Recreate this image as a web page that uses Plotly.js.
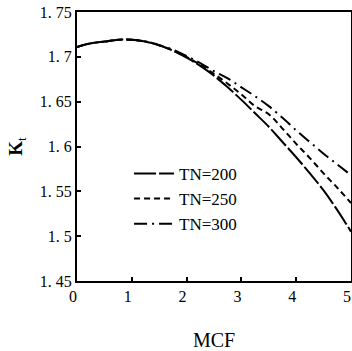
<!DOCTYPE html>
<html>
<head>
<meta charset="utf-8">
<script src="https://cdn.plot.ly/plotly-3.0.1.min.js"></script>
<style>html,body{margin:0;padding:0;background:#fff;}#chart{width:352px;height:351px;}</style>
</head>
<body>
<div id="chart"></div>
<script>
const mcf = [0, 0.25, 0.5, 0.75, 1, 1.25, 1.5, 1.75, 2, 2.25, 2.5, 2.75, 3, 3.25, 3.5, 3.75, 4, 4.25, 4.5, 4.75, 5];
const kt200 = [1.711, 1.715, 1.717, 1.719, 1.719, 1.717, 1.713, 1.707, 1.699, 1.690, 1.679, 1.666, 1.652, 1.637, 1.622, 1.605, 1.588, 1.570, 1.551, 1.529, 1.505];
const kt250 = [1.711, 1.715, 1.717, 1.719, 1.719, 1.717, 1.713, 1.707, 1.700, 1.691, 1.681, 1.670, 1.658, 1.645, 1.636, 1.620, 1.603, 1.587, 1.570, 1.554, 1.537];
const kt300 = [1.711, 1.715, 1.717, 1.719, 1.719, 1.717, 1.713, 1.708, 1.701, 1.693, 1.684, 1.676, 1.666, 1.656, 1.645, 1.632, 1.618, 1.605, 1.592, 1.580, 1.568];
const seriesNames = ["TN=200", "TN=250", "TN=300"];
const yTicks = [1.45, 1.5, 1.55, 1.6, 1.65, 1.7, 1.75];
const yTickText = ["1. 45", "1. 5", "1. 55", "1. 6", "1. 65", "1. 7", "1. 75"];
const xTicks = [0, 1, 2, 3, 4, 5];
const xTickText = ["0", "1", "2", "3", "4", "5"];

const serif = "'Liberation Serif', 'Times New Roman', serif";
const traces = [
  {x: mcf, y: kt200, name: seriesNames[0], mode: "lines", line: {color: "#000", width: 2, dash: "22px,3px", shape: "spline"}},
  {x: mcf, y: kt250, name: seriesNames[1], mode: "lines", line: {color: "#000", width: 2, dash: "6px,4px", shape: "spline"}},
  {x: mcf, y: kt300, name: seriesNames[2], mode: "lines", line: {color: "#000", width: 2, dash: "13px,5px,2px,5px", shape: "spline"}}
];
const layout = {
  width: 352, height: 351,
  margin: {l: 77, r: 1, t: 12, b: 70},
  paper_bgcolor: "#fff", plot_bgcolor: "#fff",
  showlegend: true,
  legend: {x: 0.19, y: 0.465, xanchor: "left", yanchor: "top", bgcolor: "rgba(0,0,0,0)",
           font: {family: serif, size: 17, color: "#000"}, tracegroupgap: 0, itemwidth: 40},
  xaxis: {range: [0, 5], tickvals: xTicks, ticktext: xTickText, ticks: "inside", ticklen: 4, tickwidth: 2,
          tickcolor: "#000", showgrid: false, zeroline: false, showline: true, linecolor: "#000", linewidth: 2,
          mirror: true, ticklabeloverflow: "allow", ticklabelshift: -4,
          tickfont: {family: serif, size: 16, color: "#000"},
          title: {text: "MCF", font: {family: serif, size: 20, color: "#000"}, standoff: 36}},
  yaxis: {range: [1.45, 1.75], tickvals: yTicks, ticktext: yTickText, ticks: "inside", ticklen: 4, tickwidth: 2,
          tickcolor: "#000", showgrid: false, zeroline: false, showline: true, linecolor: "#000", linewidth: 2,
          mirror: true, tickfont: {family: serif, size: 16, color: "#000"},
          title: {text: "<b>K</b><sub>t</sub>", font: {family: serif, size: 19, color: "#000"}, standoff: 12}}
};
Plotly.newPlot("chart", traces, layout, {displayModeBar: false, staticPlot: true});
</script>
</body>
</html>
